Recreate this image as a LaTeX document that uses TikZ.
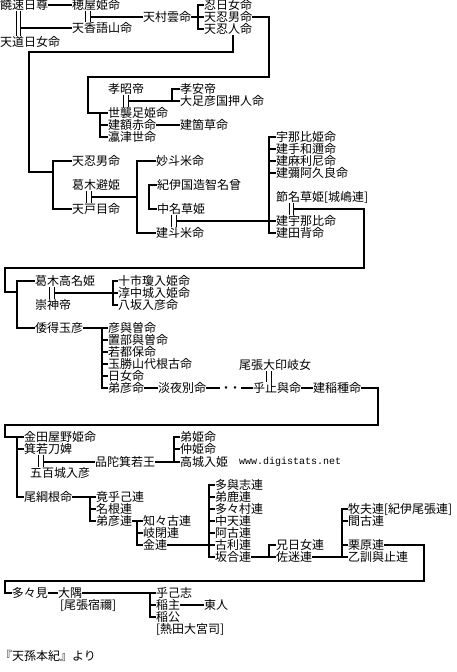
\documentclass[tikz,border=0pt]{standalone}
\usepackage{fontspec}
\setmainfont{Noto Sans CJK JP}
\newfontfamily\monof{Liberation Mono}
\usetikzlibrary{calc}
\tikzset{
  nm/.style={anchor=west, inner sep=0pt, outer sep=0pt, font=\fontsize{12}{12}\selectfont, text height=10.4pt, text depth=1.6pt},
  ln/.style={line width=2.4pt, line join=miter},
  dl/.style={line width=1pt},
}
\newcommand\dbl[3]{%
  \draw[dl] ($(#1.south)+(#3-2.2,0)$) -- ($(#1.south |- #2.north)+(#3-2.2,0)$);
  \draw[dl] ($(#1.south)+(#3+2.2,0)$) -- ($(#1.south |- #2.north)+(#3+2.2,0)$);
  \coordinate (#1m) at ($(#1.south)!.5!(#1.south |- #2.north)+(#3+2.2,0)$);
}
\begin{document}
\begin{tikzpicture}[x=1pt,y=-1pt]
\fill[white] (0,0) rectangle (456,672);
\useasboundingbox (0,0) rectangle (456,672);

% ---- nodes ----
\node[nm] (nigi) at (0,5) {饒速日尊};
\node[nm] (hoya) at (72,5) {穂屋姫命};
\node[nm] (kago) at (72,28) {天香語山命};
\node[nm] (michi) at (0,42) {天道日女命};
\node[nm] (mura) at (143,17) {天村雲命};
\node[nm] (oshihi) at (204,5) {忍日女命};
\node[nm] (oshio) at (204,17) {天忍男命};
\node[nm] (oshihito) at (204,29) {天忍人命};
\node[nm] (kosho) at (108,89) {孝昭帝};
\node[nm] (koan) at (180,89) {孝安帝};
\node[nm] (otarashi) at (180,101) {大足彦国押人命};
\node[nm] (yoso) at (108,113) {世襲足姫命};
\node[nm] (nuka) at (108,125) {建額赤命};
\node[nm] (kaya) at (180,125) {建箇草命};
\node[nm] (okitsu) at (108,137) {瀛津世命};
\node[nm] (oshio2) at (72,161) {天忍男命};
\node[nm] (yoke) at (72,185) {葛木避姫};
\node[nm] (tome) at (72,209) {天戸目命};
\node[nm] (tome2) at (156,161) {妙斗米命};
\node[nm] (kii) at (157,185) {紀伊国造智名曾};
\node[nm] (nakana) at (157,209) {中名草姫};
\node[nm] (tatome) at (156,233) {建斗米命};
\node[nm] (unahi) at (276,137) {宇那比姫命};
\node[nm] (tewani) at (276,149) {建手和邇命};
\node[nm] (marine) at (276,161) {建麻利尼命};
\node[nm] (akura) at (276,173) {建彌阿久良命};
\node[nm] (fushi) at (276,197) {節名草姫[城嶋連]};
\node[nm] (tunahi) at (276,221) {建宇那比命};
\node[nm] (taseri) at (276,233) {建田背命};
\node[nm] (takana) at (35,281) {葛木高名姫};
\node[nm] (sujin) at (35,305) {崇神帝};
\node[nm] (toichi) at (118,281) {十市瓊入姫命};
\node[nm] (nunaki) at (118,293) {淳中城入姫命};
\node[nm] (yasaka) at (118,305) {八坂入彦命};
\node[nm] (yamato) at (35,328) {倭得玉彦};
\node[nm] (c1) at (108,328) {彦與曽命};
\node[nm] (c2) at (108,340) {置部與曽命};
\node[nm] (c3) at (108,352) {若都保命};
\node[nm] (c4) at (108,364) {玉勝山代根古命};
\node[nm] (c5) at (108,376) {日女命};
\node[nm] (c6) at (108,388) {弟彦命};
\node[nm] (awa) at (158,388) {淡夜別命};
\node[nm] (dots) at (220,388) {・\hspace{-3pt}・};
\node[nm] (inaki) at (239,365) {尾張大印岐女};
\node[nm] (oto) at (253,388) {乎止與命};
\node[nm] (inada) at (313,388) {建稲種命};
\node[nm] (kanata) at (24,437) {金田屋野姫命};
\node[nm] (mino) at (24,449) {箕若刀婢};
\node[nm] (iho) at (30,473) {五百城入彦};
\node[nm] (homuda) at (95,462) {品陀箕若王};
\node[nm] (otohime) at (180,437) {弟姫命};
\node[nm] (nakahime) at (180,449) {仲姫命};
\node[nm] (takaki) at (180,462) {高城入姫};
\node[anchor=west, inner sep=0pt, font=\monof\fontsize{10}{10}\selectfont] (url) at (239,462) {www.digistats.net};
\node[nm] (otsuna) at (24,497) {尾綱根命};
\node[nm] (kyo) at (96,497) {竟乎己連};
\node[nm] (nane) at (96,509) {名根連};
\node[nm] (otohiko) at (96,521) {弟彦連};
\node[nm] (chichi) at (143,521) {知々古連};
\node[nm] (kihe) at (143,533) {岐閉連};
\node[nm] (kane) at (143,545) {金連};
\node[nm] (d1) at (215,485) {多與志連};
\node[nm] (d2) at (215,497) {弟鹿連};
\node[nm] (d3) at (215,509) {多々村連};
\node[nm] (d4) at (215,521) {中天連};
\node[nm] (d5) at (215,533) {阿古連};
\node[nm] (d6) at (215,545) {古利連};
\node[nm] (d7) at (215,557) {坂合連};
\node[nm] (ehi) at (276,545) {兄日女連};
\node[nm] (same) at (276,557) {佐迷連};
\node[nm] (makio) at (348,509) {牧夫連[紀伊尾張連]};
\node[nm] (mako) at (348,521) {間古連};
\node[nm] (kuri) at (348,545) {栗原連};
\node[nm] (otokuni) at (348,557) {乙訓與止連};
\node[nm] (tatami) at (12,593) {多々見};
\node[nm] (osumi) at (58,593) {大隅};
\node[nm] (osumit) at (60,605) {[尾張宿禰]};
\node[nm] (okoshi) at (156,593) {乎己志};
\node[nm] (inanushi) at (156,605) {稲主};
\node[nm] (inakimi) at (156,617) {稲公};
\node[nm] (atsuta) at (156,629) {[熱田大宮司]};
\node[nm] (azuma) at (204,605) {東人};
\node[nm] (src) at (0,656) {『天孫本紀』より};

% ---- marriages ----
\dbl{nigi}{michi}{-5.5}
\dbl{hoya}{kago}{-8}
\dbl{kosho}{yoso}{0}
\dbl{yoke}{tome}{-7}
\dbl{nakana}{tatome}{-7}
\dbl{fushi}{tunahi}{-30.5}
\dbl{takana}{sujin}{-13}
\dbl{inaki}{oto}{-6}
\dbl{mino}{iho}{-7}

% ---- connectors ----
\draw[ln] (nigi.east) -- (hoya.west);
\draw[ln] (nigim |- kago.west) -- (kago.west);
\draw[ln] (hoyam |- mura.west) -- (mura.west);
\draw[ln] (mura.east) -- (oshio.west);
\draw[ln] (oshihi.west) -- ++(-6,0) |- (oshihito.west);
% loop 1
\draw[ln] (oshio.east) -| (269,77) -| (88,113) -- (yoso.west);
\draw[ln] (yoso.west) -- ++(-8,0) |- (okitsu.west);
\draw[ln] (nuka.west) -- ++(-8,0);
\draw[ln] (nuka.east) -- (kaya.west);
\draw[ln] (koan.west) -- ++(-8,0) |- (otarashi.west);
\draw[ln] (koshom |- otarashi.west) -- (otarashi.west);
% loop 2
\draw[ln] ($(oshihito.south)+(5,0)$) |- (29,52) |- (53,172);
\draw[ln] (oshio2.west) -- ++(-19,0) |- (tome.west);
% 葛木避姫
\draw[ln] (tome2.west) -- ++(-19,0) coordinate (b3) |- (tatome.west);
\draw[ln] (yokem) -- (yokem -| b3);
\draw[ln] (kii.west) -- ++(-8,0) |- (nakana.west);
% 中名草姫
\draw[ln] (unahi.west) -- ++(-7,0) |- (taseri.west);
\foreach \n in {tewani,marine,akura,tunahi} \draw[ln] (\n.west) -- ++(-7,0);
\draw[ln] (nakanam |- tunahi.west) -- (tunahi.west);
% loop 3
\draw[ln] (fushim) -| (364,268) -| (5,292) -- (17,292);
\draw[ln] (takana.west) -- ++(-18,0) |- (yamato.west);
\draw[ln] (toichi.west) -- ++(-5,0) |- (yasaka.west);
\draw[ln] (nunaki.west) -- ++(-5,0);
\draw[ln] (takanam |- nunaki.west) -- (nunaki.west);
\draw[ln] (yamato.east) -- (c1.west);
\draw[ln] (c1.west) -- ++(-6,0) |- (c6.west);
\foreach \n in {c2,c3,c4,c5} \draw[ln] (\n.west) -- ++(-6,0);
\draw[ln] (c6.east) -- (awa.west);
\draw[ln] (awa.east) -- (dots.west);
\draw[ln] (dots.east) -- (oto.west);
\draw[ln] (oto.east) -- (inada.west);
% loop 4
\draw[ln] (inada.east) -| (378,425) -| (5,437) -- (kanata.west);
\draw[ln] (kanata.west) -- ++(-7,0) |- (otsuna.west);
\draw[ln] (mino.west) -- ++(-7,0);
\draw[ln] (minom |- homuda.west) -- (homuda.west);
\draw[ln] (homuda.east) -- (takaki.west);
\draw[ln] (otohime.west) -- ++(-6,0) |- (takaki.west);
\draw[ln] (nakahime.west) -- ++(-6,0);
\draw[ln] (otsuna.east) -- (kyo.west);
\draw[ln] (kyo.west) -- ++(-6,0) |- (otohiko.west);
\draw[ln] (nane.west) -- ++(-6,0);
\draw[ln] (otohiko.east) -- (chichi.west);
\draw[ln] (chichi.west) -- ++(-6,0) |- (kane.west);
\draw[ln] (kihe.west) -- ++(-6,0);
\draw[ln] (kane.east) -- (d6.west);
\draw[ln] (d1.west) -- ++(-6,0) |- (d7.west);
\foreach \n in {d2,d3,d4,d5,d6} \draw[ln] (\n.west) -- ++(-6,0);
\draw[ln] (d7.east) -- (same.west);
\draw[ln] (ehi.west) -- ++(-7,0) |- (same.west);
\draw[ln] (same.east) -- (otokuni.west);
\draw[ln] (makio.west) -- ++(-6,0) |- (otokuni.west);
\foreach \n in {mako,kuri} \draw[ln] (\n.west) -- ++(-6,0);
% loop 5
\draw[ln] (kuri.east) -| (424,581) -| (5,593) -- (tatami.west);
\draw[ln] (tatami.east) -- (osumi.west);
\draw[ln] (osumi.east) -- (okoshi.west);
\draw[ln] (okoshi.west) -- ++(-6,0) |- (inakimi.west);
\draw[ln] (inanushi.west) -- ++(-6,0);
\draw[ln] (inanushi.east) -- (azuma.west);
\end{tikzpicture}
\end{document}
